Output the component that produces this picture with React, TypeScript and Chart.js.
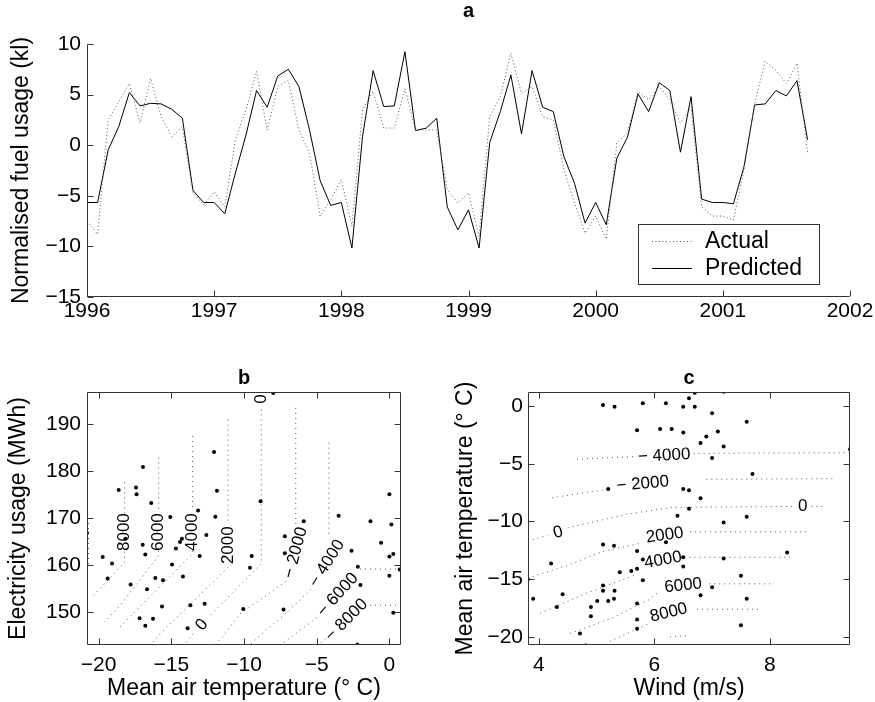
import React, { useEffect, useRef } from 'react';
import { Chart, registerables } from 'chart.js';

Chart.register(...registerables);

const FONT = '"Liberation Sans", Arial, Helvetica, sans-serif';

type Pt = [number, number] | null;

// ---------- Panel a: normalised fuel usage (monthly, from Jan 1996) ----------
const startYear = 1996;
const actualFuel = [
  -7.5, -8.8, 2.5, 4.3, 6.1, 2.2, 6.6, 2.8, 0.85, 1.8,
  -4.7, -5.9, -4.6, -6.1, 0.5, 3.5, 7.3, 1.5, 5.8, 6.4,
  1.5, -0.8, -7.0, -5.4, -3.4, -8.0, 3.5, 5.3, 1.7, 1.7,
  5.6, 1.5, 1.5, 1.5, -4.4, -5.7, -4.7, -9.0, 2.8, 4.8,
  9.1, 5.1, 5.8, 2.8, 2.5, -2.4, -5.7, -8.7, -7.0, -9.3,
  0.2, 1.2, 5.3, 4.5, 5.8, 4.5, 2.2, 3.8, -6.1, -7.0,
  -7.0, -7.4, -2.4, 4.1, 8.3, 7.4, 6.1, 8.1, -0.8,
];
const predictedFuel = [
  -5.66, -5.66, -0.46, 1.84, 5.2, 3.88, 4.14, 4.08, 3.55, 2.66,
  -4.47, -5.66, -5.66, -6.78, -2.76, 1.0, 5.4, 3.75, 6.84, 7.5,
  5.79, 1.5, -3.5, -5.95, -5.66, -10.16, 0.86, 7.37, 3.82, 3.88,
  9.24, 1.45, 1.68, 2.66, -6.12, -8.36, -6.38, -10.16, 0.26, 3.32,
  6.94, 1.12, 7.37, 3.75, 3.32, -1.12, -3.75, -7.7, -5.66, -7.86,
  -1.28, 0.79, 5.07, 3.32, 6.18, 5.4, -0.69, 4.8, -5.33, -5.66,
  -5.66, -5.79, -2.1, 3.98, 4.08, 5.4, 4.87, 6.38, 0.53,
];
const fuelXTicks = [1996, 1997, 1998, 1999, 2000, 2001, 2002];
const fuelYTicks = [-15, -10, -5, 0, 5, 10];
const legendLabels = ['Actual', 'Predicted'];

// ---------- Panel b: electricity usage vs mean air temperature ----------
const elecPoints: [number, number][] = [
  [-20.8, 166.8], [-19.72, 161.7], [-19.08, 160.3], [-19.38, 157.1], [-18.62, 176.0],
  [-18.16, 165.6], [-17.8, 155.8], [-17.43, 176.5], [-17.39, 175.1], [-16.95, 180.9],
  [-16.97, 164.3], [-16.79, 162.2], [-16.67, 154.8], [-17.18, 148.6], [-16.79, 147.0],
  [-16.38, 173.2], [-16.26, 148.5], [-16.1, 157.2], [-15.64, 151.1], [-15.57, 156.7],
  [-15.07, 170.2], [-14.95, 160.1], [-14.68, 163.5], [-14.4, 164.9], [-14.27, 165.6],
  [-14.2, 157.5], [-13.16, 171.6], [-13.05, 161.9], [-12.59, 166.4], [-13.69, 151.4],
  [-12.71, 151.7], [-13.88, 146.5], [-12.06, 184.1], [-11.86, 175.8], [-11.97, 170.3],
  [-10.05, 150.6], [-7.99, 196.7], [-8.86, 173.6], [-9.47, 161.9], [-9.59, 159.4],
  [-7.19, 166.1], [-7.19, 162.5], [-5.89, 169.3], [-7.28, 150.5], [-3.49, 170.5],
  [-2.6, 163.0], [-2.17, 159.6], [-1.99, 155.7], [-2.2, 143.0], [-1.3, 169.3],
  [-0.57, 164.7], [0.0, 175.1], [0.14, 168.6], [0.0, 161.8], [0.27, 162.3],
  [0.71, 159.0], [0.0, 157.7], [0.27, 149.8],
];
const elecContours: Pt[][] = [
  [[-20.7, 170], [-20.7, 160]],
  [[-18.21, 177.6], [-18.21, 171], null, [-18.21, 162.8], [-18.21, 160.6], [-19.7, 155.6], [-20.4, 153.4]],
  [[-15.87, 182.9], [-15.87, 171.5], null, [-15.87, 163], [-15.87, 162], [-18.5, 151.4], [-19.6, 147.8]],
  [[-13.53, 187.5], [-13.53, 171.5], null, [-13.53, 163], [-13.53, 162.4], [-17.6, 149.7], [-18.6, 146.5]],
  [[-11.1, 191], [-11.1, 169], null, [-11.1, 159.5], [-15.7, 145.5], [-16.4, 143]],
  [[-8.81, 193.2], [-8.81, 160.3], [-12.3, 149.3], null, [-13.5, 145.3], [-14.1, 143]],
  [[-6.44, 193.5], [-6.44, 168.5], null, [-7.1, 156.5], [-8.9, 152.5], [-10.3, 149.5], [-11.45, 144.7], [-12, 143]],
  [[-4.16, 186.1], [-4.16, 166.5], null, [-5.4, 154.8], [-7.0, 150], [-9.1, 144.4], [-9.6, 142.9]],
  [[0.8, 159.1], [-2.05, 159.1], null, [-5.0, 148.7], [-7.4, 143.1]],
  [[0.8, 151.4], [-1.4, 151.4], null, [-4.4, 144.2], [-4.9, 142.9]],
];
const elecContourLabels: { text: string; x: number; y: number; rot: number }[] = [
  { text: '8000', x: -18.21, y: 167, rot: -90 },
  { text: '6000', x: -15.87, y: 167, rot: -90 },
  { text: '4000', x: -13.53, y: 167, rot: -90 },
  { text: '2000', x: -11.1, y: 164.2, rot: -90 },
  { text: '0', x: -8.81, y: 195.4, rot: -90 },
  { text: '0', x: -12.9, y: 147.2, rot: -50 },
  { text: '\u2212 2000', x: -6.45, y: 162.6, rot: -75 },
  { text: '\u2212 4000', x: -4.3, y: 160.3, rot: -58 },
  { text: '\u2212 6000', x: -3.55, y: 153.6, rot: -48 },
  { text: '\u2212 8000', x: -2.95, y: 148.2, rot: -45 },
];
const elecXTicks = [-20, -15, -10, -5, 0];
const elecYTicks = [150, 160, 170, 180, 190];

// ---------- Panel c: mean air temperature vs wind ----------
const windPoints: [number, number][] = [
  [5.11, 0.09], [5.31, -0.06], [5.8, 0.23], [6.2, 0.23], [5.7, -2.1], [6.1, -2.0],
  [5.2, -7.2], [5.11, -12.0], [5.3, -12.1], [6.2, -11.8], [4.21, -13.65], [5.7, -12.55],
  [5.8, -13.3], [5.4, -14.4], [5.6, -14.3], [5.7, -14.1], [5.8, -15.1], [3.81, -15.0],
  [3.9, -16.7], [4.41, -16.3], [4.31, -17.4], [5.11, -15.55], [5.11, -16.0], [5.31, -16.0],
  [5.01, -16.9], [5.2, -16.9], [5.3, -16.7], [4.9, -17.4], [4.9, -18.2], [5.7, -17.1],
  [5.7, -18.5], [5.7, -19.3], [4.71, -19.7], [4.81, -20.75],
  [6.7, 1.15], [7.2, 1.24], [6.6, 0.66], [6.5, -0.06], [6.7, -0.06], [7.0, -0.63],
  [7.6, -1.36], [6.3, -2.0], [6.5, -2.3], [7.1, -2.2], [6.9, -2.65], [6.8, -3.2],
  [7.2, -3.5], [7.0, -4.5], [9.39, -3.75], [7.7, -5.9], [6.5, -7.2], [6.6, -7.3],
  [6.8, -8.0], [6.6, -8.9], [6.4, -9.5], [7.2, -10.1], [7.6, -9.6], [8.3, -12.7],
  [6.5, -13.1], [6.5, -13.9], [7.2, -13.2], [7.5, -14.7], [7.0, -15.7], [6.8, -16.4],
  [7.6, -16.7], [7.5, -19.0],
];
const windContours: Pt[][] = [
  [[4.66, -4.6], [5.1, -4.5], [5.65, -4.4], null, [6.68, -4.12], [7.5, -4.08], [9.39, -4.05]],
  [[4.23, -7.95], [4.8, -7.5], [5.25, -7.2], null, [6.9, -6.35], [9.1, -6.3]],
  [[3.81, -11.7], [4.15, -11.2], null, [4.5, -10.55], [5.5, -9.4], [6.3, -8.78], [8.42, -8.7], null, [8.72, -8.7], [8.95, -8.7]],
  [[3.81, -14.9], [4.5, -13.8], [5.1, -12.6], [5.75, -11.9], null, [6.62, -10.9], [8.7, -10.9]],
  [[4.02, -17.95], [4.83, -16.2], [5.69, -14.6], null, [6.52, -13.1], [8.35, -13.1]],
  [[4.54, -19.7], [5.3, -18.3], [5.9, -16.8], [6.05, -16.2], null, [6.95, -15.4], [8.05, -15.4]],
  [[5.23, -20.4], [5.92, -18.8], null, [6.74, -17.6], [7.83, -17.6]],
  [[6.27, -20.0], [6.6, -19.9]],
];
const windContourLabels: { text: string; x: number; y: number; rot: number }[] = [
  { text: '\u2212 4000', x: 6.17, y: -4.3, rot: -3 },
  { text: '\u2212 2000', x: 5.8, y: -6.75, rot: -5 },
  { text: '0', x: 4.33, y: -10.95, rot: -15 },
  { text: '0', x: 8.57, y: -8.65, rot: 0 },
  { text: '2000', x: 6.18, y: -11.2, rot: -8 },
  { text: '4000', x: 6.15, y: -13.35, rot: -10 },
  { text: '6000', x: 6.5, y: -15.55, rot: -6 },
  { text: '8000', x: 6.25, y: -17.9, rot: -14 },
];
const windXTicks = [4, 6, 8];
const windYTicks = [-20, -15, -10, -5, 0];

// ---------- helpers ----------
const fmt = (v: number) => (v < 0 ? '\u2212' + Math.abs(v) : String(v));

function segments(path: Pt[]) {
  const out: { x: number; y: number }[][] = [];
  let cur: { x: number; y: number }[] = [];
  for (const p of path) {
    if (p === null) {
      if (cur.length) out.push(cur);
      cur = [];
    } else cur.push({ x: p[0], y: p[1] });
  }
  if (cur.length) out.push(cur);
  return out;
}

const framePlugin = (box: boolean, tickLen = 6) => ({
  id: 'frame',
  afterDatasetsDraw(chart: any) {
    const { ctx, chartArea: a } = chart;
    const xs = chart.scales.x;
    const ys = chart.scales.y;
    const L = Math.round(a.left) + 0.5;
    const R = Math.round(a.right) - 0.5;
    const T = Math.round(a.top) + 0.5;
    const B = Math.round(a.bottom) - 0.5;
    ctx.save();
    ctx.strokeStyle = '#333';
    ctx.lineWidth = 1;
    ctx.setLineDash([]);
    ctx.beginPath();
    ctx.moveTo(L, T);
    ctx.lineTo(L, B);
    ctx.lineTo(R, B);
    if (box) {
      ctx.lineTo(R, T);
      ctx.lineTo(L, T);
    }
    for (const t of xs.ticks) {
      const px = Math.round(xs.getPixelForValue(t.value)) + 0.5;
      ctx.moveTo(px, B);
      ctx.lineTo(px, B - tickLen);
      if (box) {
        ctx.moveTo(px, T);
        ctx.lineTo(px, T + tickLen);
      }
    }
    for (const t of ys.ticks) {
      const py = Math.round(ys.getPixelForValue(t.value)) + 0.5;
      ctx.moveTo(L, py);
      ctx.lineTo(L + tickLen, py);
      if (box) {
        ctx.moveTo(R, py);
        ctx.lineTo(R - tickLen, py);
      }
    }
    ctx.stroke();
    ctx.restore();
  },
});

const letterPlugin = (text: string, above: number) => ({
  id: 'letter',
  afterDraw(chart: any) {
    const { ctx, chartArea: a } = chart;
    ctx.save();
    ctx.font = `bold 20px ${FONT}`;
    ctx.fillStyle = '#000';
    ctx.textAlign = 'center';
    ctx.textBaseline = 'middle';
    ctx.fillText(text, (a.left + a.right) / 2, a.top - above);
    ctx.restore();
  },
});

const contourLabelPlugin = (labels: { text: string; x: number; y: number; rot: number }[]) => ({
  id: 'contourLabels',
  afterDatasetsDraw(chart: any) {
    const { ctx } = chart;
    const xs = chart.scales.x;
    const ys = chart.scales.y;
    ctx.save();
    ctx.font = `17px ${FONT}`;
    ctx.fillStyle = '#000';
    ctx.textAlign = 'center';
    ctx.textBaseline = 'middle';
    for (const l of labels) {
      ctx.save();
      ctx.translate(xs.getPixelForValue(l.x), ys.getPixelForValue(l.y));
      ctx.rotate((l.rot * Math.PI) / 180);
      ctx.fillText(l.text, 0, 0);
      ctx.restore();
    }
    ctx.restore();
  },
});

const legendPlugin = {
  id: 'boxLegend',
  afterDraw(chart: any) {
    const { ctx, chartArea: a } = chart;
    const left = a.right - 212;
    const top = a.top + 180;
    const w = 181;
    const h = 60;
    ctx.save();
    ctx.fillStyle = '#fff';
    ctx.fillRect(left, top, w, h);
    ctx.strokeStyle = '#333';
    ctx.lineWidth = 1;
    ctx.strokeRect(Math.round(left) + 0.5, Math.round(top) + 0.5, w, h);
    const rows = [top + 17, top + 44];
    chart.data.datasets.slice(0, 2).forEach((ds: any, i: number) => {
      ctx.beginPath();
      ctx.strokeStyle = ds.borderColor;
      ctx.setLineDash(ds.borderDash || []);
      ctx.moveTo(left + 14, Math.round(rows[i]) + 0.5);
      ctx.lineTo(left + 54, Math.round(rows[i]) + 0.5);
      ctx.stroke();
      ctx.setLineDash([]);
      ctx.fillStyle = '#000';
      ctx.font = `23px ${FONT}`;
      ctx.textAlign = 'left';
      ctx.textBaseline = 'middle';
      ctx.fillText(legendLabels[i], left + 67, rows[i] + 1);
    });
    ctx.restore();
  },
};

const tickFont = { family: FONT, size: 21 };
const titleFont = { family: FONT, size: 23 };

function baseScale(min: number, max: number, ticks: number[], pad: number, fit: (s: any) => void, fmtFn: (v: number) => string) {
  return {
    type: 'linear' as const,
    min,
    max,
    afterBuildTicks: (s: any) => {
      s.ticks = ticks.map((v) => ({ value: v }));
    },
    afterFit: fit,
    grid: { display: false, drawTicks: false },
    border: { display: false },
    ticks: { autoSkip: false, maxRotation: 0, padding: pad, font: tickFont, color: '#000', callback: (v: any) => fmtFn(Number(v)) },
  };
}

function contourDatasets(contours: Pt[][]) {
  const out: any[] = [];
  contours.forEach((c) =>
    segments(c).forEach((seg) =>
      out.push({
        data: seg,
        showLine: true,
        borderColor: '#555',
        borderWidth: 1,
        borderDash: [1, 4],
        pointRadius: 0,
        tension: 0,
        order: 2,
      })
    )
  );
  return out;
}

function pointsDataset(pts: [number, number][]) {
  return {
    data: pts.map(([x, y]) => ({ x, y })),
    showLine: false,
    pointRadius: 2,
    pointBackgroundColor: '#000',
    pointBorderWidth: 0,
    order: 1,
  };
}

const commonOptions = {
  responsive: false,
  animation: false as const,
  events: [] as any[],
  plugins: { legend: { display: false }, tooltip: { enabled: false }, title: { display: false } },
};

export default function App() {
  const refA = useRef<HTMLCanvasElement>(null);
  const refB = useRef<HTMLCanvasElement>(null);
  const refC = useRef<HTMLCanvasElement>(null);

  useEffect(() => {
    const charts: Chart[] = [];

    charts.push(
      new Chart(refA.current!, {
        type: 'scatter',
        data: {
          datasets: [
            {
              label: legendLabels[0],
              data: actualFuel.map((v, i) => ({ x: startYear + i / 12, y: v })),
              showLine: true,
              borderColor: '#555',
              borderWidth: 1,
              borderDash: [1, 2.5],
              pointRadius: 0,
              tension: 0,
            } as any,
            {
              label: legendLabels[1],
              data: predictedFuel.map((v, i) => ({ x: startYear + i / 12, y: v })),
              showLine: true,
              borderColor: '#000',
              borderWidth: 1,
              pointRadius: 0,
              tension: 0,
            } as any,
          ],
        },
        options: {
          ...commonOptions,
          layout: { padding: { left: 0, right: 25, top: 44, bottom: 0 } },
          scales: {
            x: baseScale(1996, 2002, fuelXTicks, 1.5, (s) => { s.height = 43; }, (v) => String(v)),
            y: {
              ...baseScale(-15, 10, fuelYTicks, 6, (s) => { s.width = 87; }, fmt),
              title: { display: true, text: 'Normalised fuel usage (kl)', font: titleFont, color: '#000', padding: { top: 8, bottom: 0 } },
            },
          },
        } as any,
        plugins: [framePlugin(false), letterPlugin('a', 33), legendPlugin],
      })
    );

    charts.push(
      new Chart(refB.current!, {
        type: 'scatter',
        data: { datasets: [...contourDatasets(elecContours), pointsDataset(elecPoints)] },
        options: {
          ...commonOptions,
          layout: { padding: { left: 0, right: 39, top: 42, bottom: 0 } },
          scales: {
            x: {
              ...baseScale(-20.8, 0.8, elecXTicks, 7.5, (s) => { s.height = 57; }, fmt),
              title: { display: true, text: 'Mean air temperature (\u00B0 C)', font: titleFont, color: '#000', padding: { top: 0, bottom: 0 } },
            },
            y: {
              ...baseScale(142.9, 196.9, elecYTicks, 6, (s) => { s.width = 87; }, fmt),
              title: { display: true, text: 'Electricity usage (MWh)', font: titleFont, color: '#000', padding: { top: 5, bottom: 0 } },
            },
          },
        } as any,
        plugins: [contourLabelPlugin(elecContourLabels), framePlugin(true), letterPlugin('b', 14)],
      })
    );

    charts.push(
      new Chart(refC.current!, {
        type: 'scatter',
        data: { datasets: [...contourDatasets(windContours), pointsDataset(windPoints)] },
        options: {
          ...commonOptions,
          layout: { padding: { left: 0, right: 25, top: 42, bottom: 0 } },
          scales: {
            x: {
              ...baseScale(3.81, 9.39, windXTicks, 7.5, (s) => { s.height = 57; }, fmt),
              title: { display: true, text: 'Wind (m/s)', font: titleFont, color: '#000', padding: { top: 0, bottom: 0 } },
            },
            y: {
              ...baseScale(-20.7, 1.21, windYTicks, 5, (s) => { s.width = 88; }, fmt),
              title: { display: true, text: 'Mean air temperature (\u00B0 C)', font: titleFont, color: '#000', padding: { top: 12, bottom: 0 } },
            },
          },
        } as any,
        plugins: [contourLabelPlugin(windContourLabels), framePlugin(true), letterPlugin('c', 14)],
      })
    );

    return () => charts.forEach((c) => c.destroy());
  }, []);

  return (
    <div style={{ position: 'fixed', left: 0, top: 0, width: 875, height: 702, background: '#fff' }}>
      <canvas ref={refA} width={875} height={340} style={{ position: 'absolute', left: 0, top: 0, width: 875, height: 340 }} />
      <canvas ref={refB} width={440} height={352} style={{ position: 'absolute', left: 0, top: 350, width: 440, height: 352 }} />
      <canvas ref={refC} width={435} height={352} style={{ position: 'absolute', left: 440, top: 350, width: 435, height: 352 }} />
    </div>
  );
}
